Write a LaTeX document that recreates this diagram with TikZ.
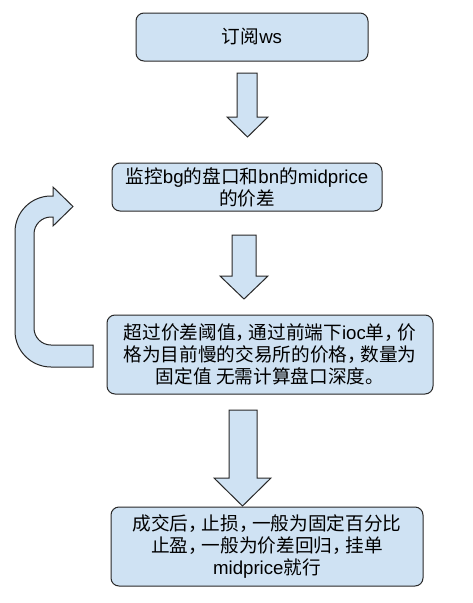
\documentclass[tikz,border=0pt]{standalone}
\usepackage{fontspec}
\setmainfont{Noto Sans CJK SC}
\newfontfamily\latinfont{Liberation Sans}
\newcommand{\lat}[1]{{\latinfont #1}}
\newcommand{\cm}{\makebox[0.7em][l]{，}}
\definecolor{boxblue}{RGB}{207,226,243}
\definecolor{boxline}{RGB}{40,40,40}
\tikzset{every picture/.style={line width=0.75pt}}
\tikzset{
  box/.style={draw=boxline, fill=boxblue, rounded corners=6pt, inner sep=0pt, align=center,
    font=\fontsize{14}{16.5}\selectfont},
  blockarrow/.style={draw=boxline, fill=boxblue, line join=miter}
}

\begin{document}
\begin{tikzpicture}[x=0.75pt,y=0.75pt,yscale=-1,xscale=1]
	\useasboundingbox (0,0) rectangle (472,603);

	%Shape: Rounded Rect [id:ws]
	\node[box, minimum width=174pt, minimum height=36pt] (ws) at (252,37) {订阅\lat{ws}};
	%Shape: Rounded Rect [id:monitor]
	\node[box, minimum width=202.5pt, minimum height=36pt] (monitor) at (247,187)
		{监控\lat{bg}的盘口和\lat{bn}的\lat{midprice}\\的价差};
	%Shape: Rounded Rect [id:order]
	\node[box, minimum width=244.5pt, minimum height=59.25pt] (order) at (270,354.5)
		{超过价差阈值\cm 通过前端下\lat{ioc}单\cm 价\\格为目前慢的交易所的价格\cm 数量为\\固定值 无需计算盘口深度。};
	%Shape: Rounded Rect [id:exit]
	\node[box, minimum width=234pt, minimum height=59.25pt] (exit) at (267,546.5)
		{成交后\cm 止损\cm 一般为固定百分比\\止盈\cm 一般为价差回归\cm 挂单\\\lat{midprice}就行};

	%Shape: Down Arrow [id:arrowone]
	\draw [blockarrow] (237,73) -- (257,73) -- (257,117) -- (268,117) -- (247.5,137) -- (227,117) -- (237,117) -- cycle ;
	%Shape: Down Arrow [id:arrowtwo]
	\draw [blockarrow] (232,235) -- (256,235) -- (256,276) -- (268,276) -- (244,299) -- (220,276) -- (232,276) -- cycle ;
	%Shape: Down Arrow [id:arrowthree]
	\draw [blockarrow] (229,410) -- (257,410) -- (257,478) -- (271,478) -- (242.5,506) -- (214,478) -- (229,478) -- cycle ;

	%Shape: U-Turn Arrow [id:loop]
	\draw [blockarrow] (93,367) -- (51,367) arc[start angle=90,end angle=180,radius=36] -- (15,232)
		arc[start angle=180,end angle=270,radius=36] -- (53,196) -- (53,187) -- (73,206.5) -- (53,226) -- (53,217) -- (51,217)
		arc[start angle=270,end angle=180,radius=17] -- (34,328)
		arc[start angle=180,end angle=90,radius=17] -- (93,345) -- cycle ;

\end{tikzpicture}
\end{document}
